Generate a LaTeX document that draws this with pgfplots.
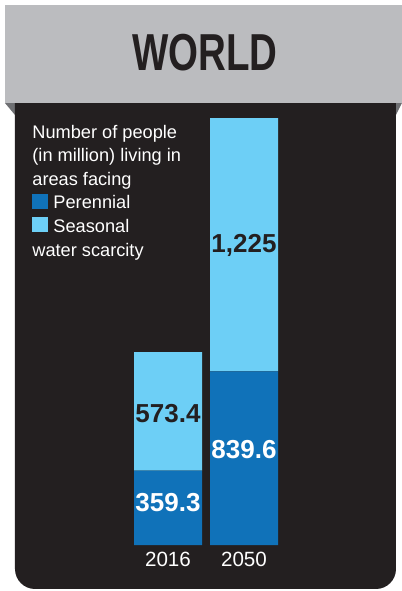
\documentclass[border=0pt]{standalone}
\usepackage{pgfplots}
\pgfplotsset{compat=1.18}
\usepackage{fontspec}
\setmainfont{Liberation Sans}
\newfontfamily\titlefont{Liberation Sans}[FakeStretch=0.74]
\newfontfamily\legfont{Liberation Sans}
\definecolor{perennial}{RGB}{16,114,185}
\definecolor{seasonal}{RGB}{109,207,246}
\definecolor{panel}{RGB}{35,31,32}
\definecolor{header}{RGB}{187,188,191}
\definecolor{fold}{RGB}{110,111,114}
\tikzset{vlab/.style={anchor=base, inner sep=0, font=\bfseries\fontsize{13}{13}\selectfont}}
\begin{document}
\begin{tikzpicture}
\begin{scope}[x=0.5pt,y=0.5pt]
\fill[white] (0,0) rectangle (402,591);
\fill[header] (5,488) rectangle (402,586);
\fill[fold] (5,488) -- (15,488) -- (15,476) -- cycle;
\fill[fold] (396,488) -- (402,488) -- (396,476) -- cycle;
\fill[panel, rounded corners=10pt] (15,488) -- (15,2) -- (396,2) -- (396,488);
\node[font=\titlefont\bfseries\fontsize{26}{26}\selectfont, text=panel, anchor=base, inner sep=0] at (205,521) {WORLD};
\node[anchor=base west, align=left, inner sep=0, text=white,
      font=\legfont\fontsize{9.1}{11.8}\selectfont] at (32,335)
 {Number of people\\(in million) living in\\areas facing\\
  \textcolor{perennial}{\rule{8pt}{7.5pt}} Perennial\\
  \textcolor{seasonal}{\rule{8pt}{7.5pt}} Seasonal\\water scarcity};
\end{scope}
\begin{axis}[at={(65pt,23pt)}, anchor=south west, scale only axis,
  x=38pt, y=0.1034pt, xmin=-0.5, xmax=1.5, ymin=0, ymax=2064.6,
  enlargelimits=false, ybar stacked, bar width=34pt,
  axis line style={draw=none}, major tick length=0pt,
  ytick=\empty, xtick={0,1}, xticklabels={2016,2050},
  xticklabel style={text=white, font=\fontsize{10.3}{10}\selectfont},
  clip=false]
\addplot[fill=perennial, draw=none] coordinates {(0,359.3) (1,839.6)};
\addplot[fill=seasonal, draw=none] coordinates {(0,573.4) (1,1225)};
\coordinate (l1) at (axis cs:0,160);
\coordinate (l2) at (axis cs:0,590);
\coordinate (l3) at (axis cs:1,416);
\coordinate (l4) at (axis cs:1,1412);
\end{axis}
\node[vlab, text=white] at (l1) {359.3};
\node[vlab, text=panel] at (l2) {573.4};
\node[vlab, text=white] at (l3) {839.6};
\node[vlab, text=panel] at (l4) {1,225};
\end{tikzpicture}
\end{document}
